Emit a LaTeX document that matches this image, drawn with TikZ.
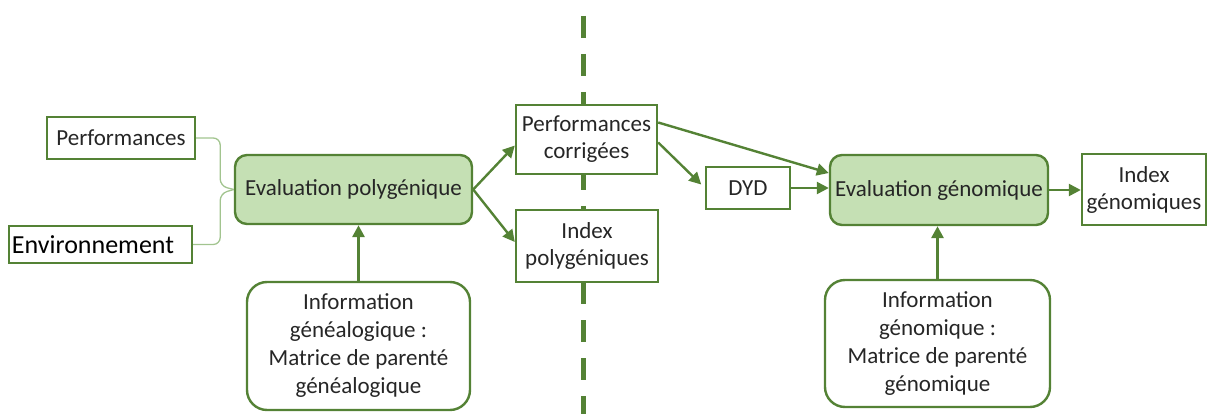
\documentclass[tikz,border=0pt]{standalone}
\usepackage{fontspec}
\setmainfont{Carlito}
\usepackage{tikz}
\usetikzlibrary{arrows.meta}
\definecolor{g1}{HTML}{548235}
\definecolor{g2}{HTML}{C5E0B4}
\definecolor{g3}{HTML}{A2C48F}
\definecolor{t1}{HTML}{262626}

\tikzset{
  box/.style={draw=g1, line width=2.4pt, fill=white, text=t1, align=center, inner sep=0pt, font=\fontsize{23}{27}\selectfont},
  evalbox/.style={box, fill=g2, rounded corners=12pt},
  infobox/.style={box, rounded corners=20pt, font=\fontsize{23}{28}\selectfont},
  arr/.style={g1, line width=2.4pt, -{Triangle[length=12pt,width=12pt]}},
  uparr/.style={arr, line width=3pt},
  brace/.style={g3, line width=1.3pt, rounded corners=7pt},
}

\begin{document}
\begin{tikzpicture}[x=1pt,y=-1pt]
\useasboundingbox (0,0) rectangle (1210,414);
\draw[g1, line width=5pt, dash pattern=on 22pt off 16pt] (583,16) -- (583,414);

\node[box, minimum width=148pt, minimum height=42pt] (perf) at (121,138) {Performances};
\node[box, minimum width=183pt, minimum height=37pt, text width=177pt, inner xsep=3pt, align=left, text=black, font=\fontsize{26}{30}\selectfont] (env) at (100.5,244.5) {Environnement};
\node[evalbox, minimum width=237pt, minimum height=69pt] (ep) at (353.5,189.5) {Evaluation polygénique};
\node[infobox, minimum width=223pt, minimum height=128pt] (infog) at (358.5,346) {Information\\généalogique :\\Matrice de parenté\\généalogique};
\node[box, minimum width=141pt, minimum height=69pt] (pc) at (586.5,139.5) {Performances\\corrigées};
\node[box, minimum width=142pt, minimum height=72pt] (ip) at (587,246) {Index\\polygéniques};
\node[box, minimum width=84pt, minimum height=42pt] (dyd) at (748,188) {DYD};
\node[evalbox, minimum width=218pt, minimum height=70pt] (eg) at (939,190) {Evaluation génomique};
\node[box, minimum width=124pt, minimum height=71pt] (ig) at (1144,189.5) {Index\\génomiques};
\node[infobox, minimum width=225pt, minimum height=127pt] (infon) at (937.5,343.5) {Information\\génomique :\\Matrice de parenté\\génomique};

\draw[brace] (perf.east) -- ++(24,0) -- ++(0,48) -- (ep.west);
\draw[brace] (env.east) -- ++(27,0) -- ++(0,-51) -- (ep.west);

\draw[arr] (ep.east) -- ([yshift=-6pt]pc.west);
\draw[arr] (ep.east) -- ([yshift=4pt]ip.west);
\draw[arr, shorten >=5pt] ([yshift=-3pt]pc.east) -- (dyd.west);
\draw[arr] ([yshift=17pt]pc.east) -- ([yshift=17pt]eg.west);
\draw[arr] (dyd.east) -- (dyd.east -| eg.west);
\draw[arr] (eg.east) -- (eg.east -| ig.west);
\draw[uparr] (infog.north) -- (infog.north |- ep.south);
\draw[uparr] (infon.north) -- (infon.north |- eg.south);
\end{tikzpicture}
\end{document}
